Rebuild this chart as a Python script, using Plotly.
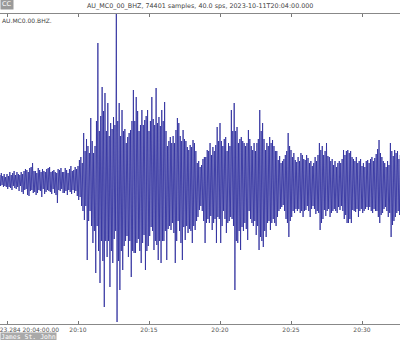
import plotly.graph_objects as go

# Seismogram AU.MC0.00.BHZ, decimated to one peak value every 3 s (0.05 min)
START_MIN = 4.0      # 20:04:00
STEP_MIN = 0.05      # 3 s between decimated samples

counts = [
    50, -40, 70, -60, 30, -50, 60, -70, 40, -30, 60, -50, 80, -40, 50, -60, 70, -50, 40, -60,                      # 20:04
    70, -80, 50, -60, 90, -70, 60, -90, 80, -50, 100, -70, 60, -80, 90, -60, 70, -100, 60, -50,                    # 20:05
    90, -110, 70, -130, 100, -90, 120, -80, 110, -140, 90, -150, 130, -100, 140, -90, 180, -120, 100, -110,        # 20:06
    100, -140, 80, -120, 130, -90, 110, -100, 90, -160, 120, -80, 100, -130, 90, -110, 120, -90, 130, -100,        # 20:07
    140, -110, 90, -130, 100, -80, 110, -120, 90, -140, 80, -220, 120, -90, 110, -100, 130, -80, 90, -120,         # 20:08
    90, -120, 130, -100, 110, -140, 80, -90, 120, -110, 150, -130, 100, -90, 110, -120, 140, -100, 120, -150,      # 20:09
    150, -190, 210, -160, 240, -250, 180, -300, 480, -390, 300, -250, 420, -790, 350, -400, 280, -300, 630, -450,  # 20:10
    400, -620, 280, -500, 350, -920, 600, -450, 1380, -700, 500, -1020, 650, -600, 940, -800, 700, -1260, 880, -600,   # 20:11
    500, -760, 780, -600, 450, -1060, 580, -700, 520, -820, 640, -580, 560, -500, 1670, -1410, 600, -800, 780, -1090,  # 20:12
    450, -700, 710, -890, 500, -650, 520, -600, 380, -550, 440, -760, 480, -600, 510, -960, 600, -700, 910, -720,      # 20:13
    600, -720, 840, -620, 700, -580, 500, -700, 560, -820, 710, -620, 560, -540, 610, -890, 650, -700, 710, -650,      # 20:14
    500, -550, 600, -460, 840, -500, 620, -690, 560, -600, 930, -640, 580, -790, 640, -600, 550, -820, 710, -600,      # 20:15
    600, -600, 790, -500, 500, -790, 350, -480, 400, -450, 440, -490, 380, -420, 450, -520, 380, -820, 510, -600,      # 20:16
    630, -400, 580, -500, 450, -620, 400, -790, 510, -460, 420, -590, 400, -450, 340, -520, 310, -480, 360, -500,      # 20:17
    340, -620, 410, -450, 380, -490, 300, -400, 180, -360, 200, -290, 140, -250, 160, -300, 220, -400, 240, -620,      # 20:18
    240, -420, 310, -380, 300, -420, 380, -350, 260, -490, 340, -420, 300, -380, 360, -620, 540, -360, 400, -380,      # 20:19
    580, -620, 400, -450, 350, -300, 420, -380, 440, -520, 300, -420, 380, -400, 350, -360, 710, -380, 500, -450,      # 20:20
    780, -1090, 500, -600, 540, -620, 380, -500, 420, -690, 440, -460, 400, -500, 380, -420, 350, -480, 380, -590,     # 20:21
    510, -300, 420, -380, 350, -420, 310, -450, 380, -400, 300, -540, 380, -450, 420, -690, 710, -560, 500, -600,      # 20:22
    580, -660, 420, -500, 310, -560, 380, -420, 350, -400, 440, -490, 380, -420, 410, -380, 350, -420, 300, -450,      # 20:23
    300, -360, 210, -300, 250, -280, 180, -260, 200, -240, 220, -300, 260, -380, 300, -420, 480, -560, 350, -400,      # 20:24
    310, -360, 240, -300, 280, -320, 210, -280, 190, -300, 240, -280, 200, -320, 280, -300, 260, -360, 220, -300,      # 20:25
    210, -290, 260, -250, 230, -300, 180, -360, 200, -280, 150, -250, 180, -280, 240, -330, 200, -300, 260, -320,      # 20:26
    380, -490, 310, -420, 350, -380, 260, -290, 300, -350, 380, -300, 250, -280, 240, -360, 200, -320, 220, -300,      # 20:27
    160, -280, 200, -300, 140, -320, 180, -260, 200, -290, 180, -250, 220, -300, 310, -380, 260, -340, 300, -420,      # 20:28
    310, -420, 280, -380, 300, -420, 240, -290, 220, -300, 200, -310, 240, -280, 180, -360, 200, -300, 220, -280,      # 20:29
    150, -320, 180, -300, 140, -280, 200, -260, 210, -290, 180, -260, 220, -300, 240, -320, 200, -280, 230, -300,      # 20:30
    270, -300, 320, -360, 410, -420, 280, -340, 240, -320, 200, -280, 180, -260, 140, -300, 200, -360, 160, -320,      # 20:31
    380, -560, 300, -440, 250, -400, 310, -360, 280, -320, 300, -300, 220, -340, 260, -300, 280, -320, 240, -300,      # 20:32
]

times = [START_MIN + STEP_MIN * i for i in range(len(counts))]

tick_vals = [5, 10, 15, 20, 25, 30]
tick_text = ["", "20:10", "20:15", "20:20", "20:25", "20:30"]
first_label = "2023.284 20:04:00.00"
title_text = "AU_MC0_00_BHZ, 74401 samples, 40.0 sps, 2023-10-11T20:04:00.000"
trace_label = "AU.MC0.00.BHZ."

fig = go.Figure()
fig.add_trace(go.Scatter(
    x=times, y=counts, mode="lines",
    line=dict(color="#2a2a9c", width=0.8),
    hoverinfo="skip",
))

font_family = "DejaVu Sans"
fig.update_layout(
    width=400, height=340,
    margin=dict(l=0, r=0, t=14, b=16),
    plot_bgcolor="white", paper_bgcolor="white",
    showlegend=False,
    xaxis=dict(
        range=[4.507, 32.676],
        tickvals=tick_vals, ticktext=tick_text,
        ticks="inside", ticklen=3, tickcolor="#777", tickwidth=1,
        showline=True, linecolor="#888", linewidth=1, mirror="ticks",
        showgrid=False, zeroline=False,
        tickfont=dict(family=font_family, size=6, color="#555"),
    ),
    yaxis=dict(
        range=[-1430, 1670],
        showticklabels=False, showgrid=False, zeroline=False, showline=False,
        ticks="",
    ),
    annotations=[
        dict(text=title_text, xref="paper", yref="paper", x=0.5, y=1,
             xanchor="center", yanchor="bottom", yshift=2, showarrow=False,
             font=dict(family=font_family, size=6.4, color="#444")),
        dict(text=trace_label, xref="paper", yref="paper", x=0, y=1,
             xanchor="left", yanchor="top", yshift=-1, showarrow=False,
             font=dict(family=font_family, size=6, color="#444")),
        dict(text=first_label, xref="paper", yref="paper", x=0.152, y=0,
             xanchor="right", yanchor="top", yshift=0, showarrow=False,
             font=dict(family=font_family, size=6, color="#555")),
        dict(text="James St. John", xref="paper", yref="paper", x=0, y=0,
             xanchor="left", yanchor="top", yshift=-8, showarrow=False,
             bgcolor="#a9a9a9", borderpad=0,
             font=dict(family="DejaVu Sans Mono", size=6.5, color="white")),
        dict(text="CC", xref="paper", yref="paper", x=0, y=1,
             xanchor="left", yanchor="bottom", yshift=4, showarrow=False,
             bgcolor="#9a9a9a", borderpad=1,
             font=dict(family=font_family, size=6.5, color="white")),
    ],
)

fig.write_html("out.html")
